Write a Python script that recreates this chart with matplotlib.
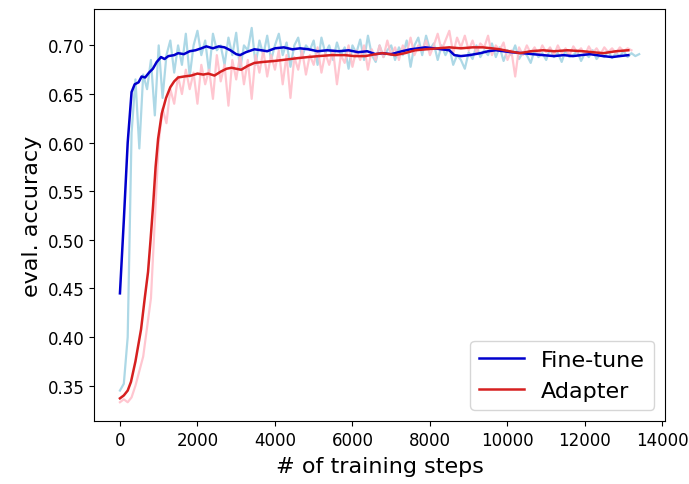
import numpy as np
import matplotlib
matplotlib.use('Agg')
import matplotlib.pyplot as plt

# raw evaluation accuracy, one value every 100 training steps
finetune_raw = [
    0.345, 0.352, 0.400, 0.610, 0.665, 0.594, 0.670, 0.655, 0.685, 0.628,
    0.700, 0.646, 0.690, 0.705, 0.672, 0.700, 0.680, 0.712, 0.668, 0.700,
    0.715, 0.690, 0.705, 0.672, 0.712, 0.695, 0.700, 0.680, 0.708, 0.690,
    0.713, 0.675, 0.700, 0.695, 0.718, 0.680, 0.705, 0.690, 0.710, 0.685,
    0.700, 0.712, 0.690, 0.703, 0.678, 0.700, 0.708, 0.688, 0.700, 0.695,
    0.705, 0.680, 0.708, 0.692, 0.700, 0.685, 0.703, 0.690, 0.698, 0.676,
    0.700, 0.692, 0.706, 0.685, 0.710, 0.690, 0.683, 0.700, 0.688, 0.695,
    0.700, 0.685, 0.698, 0.690, 0.705, 0.678, 0.700, 0.708, 0.690, 0.710,
    0.696, 0.702, 0.685, 0.700, 0.690, 0.698, 0.680, 0.690, 0.685, 0.676,
    0.693, 0.686, 0.700, 0.688, 0.695, 0.690, 0.702, 0.688, 0.698, 0.684,
    0.695, 0.690, 0.700, 0.686, 0.693, 0.690, 0.682, 0.695, 0.688, 0.692,
    0.685, 0.697, 0.688, 0.692, 0.683, 0.695, 0.688, 0.690, 0.694, 0.684,
    0.692, 0.688, 0.695, 0.686, 0.691, 0.688, 0.694, 0.687, 0.692, 0.689,
    0.694, 0.688, 0.692, 0.689, 0.691,
]
adapter_raw = [
    0.333, 0.336, 0.333, 0.338, 0.350, 0.365, 0.380, 0.410, 0.440, 0.520,
    0.600, 0.635, 0.620, 0.655, 0.640, 0.668, 0.650, 0.675, 0.655, 0.672,
    0.640, 0.680, 0.660, 0.675, 0.645, 0.690, 0.663, 0.680, 0.638, 0.685,
    0.665, 0.690, 0.660, 0.685, 0.645, 0.690, 0.672, 0.695, 0.668, 0.690,
    0.675, 0.695, 0.660, 0.690, 0.646, 0.688, 0.675, 0.695, 0.670, 0.690,
    0.680, 0.698, 0.672, 0.692, 0.680, 0.695, 0.660, 0.690, 0.682, 0.700,
    0.678, 0.695, 0.685, 0.700, 0.675, 0.696, 0.685, 0.700, 0.688, 0.705,
    0.690, 0.698, 0.685, 0.700, 0.692, 0.708, 0.690, 0.700, 0.695, 0.705,
    0.690, 0.700, 0.712, 0.695, 0.705, 0.715, 0.692, 0.708, 0.698, 0.710,
    0.695, 0.705, 0.692, 0.702, 0.698, 0.710, 0.690, 0.700, 0.695, 0.703,
    0.685, 0.695, 0.668, 0.698, 0.690, 0.700, 0.692, 0.698, 0.690, 0.700,
    0.693, 0.698, 0.690, 0.700, 0.692, 0.697, 0.690, 0.699, 0.693, 0.697,
    0.690, 0.699, 0.692, 0.697, 0.691, 0.698, 0.693, 0.697, 0.692, 0.698,
    0.694, 0.697, 0.695,
]
raw_interval = 100

# smoothed curves
finetune_steps = [0, 100, 200, 300, 380, 480, 560, 650, 750, 850, 950, 1060,
                  1150, 1250, 1400, 1500, 1650, 1800, 1950, 2100, 2230, 2400,
                  2550, 2700, 2850, 3000, 3100, 3250, 3470, 3650, 3800, 4000,
                  4230, 4450, 4650, 4870, 5100, 5350, 5650, 5900, 6150, 6380,
                  6590, 6770, 7000, 7280, 7500, 7700, 7880, 8100, 8300, 8500,
                  8630, 8800, 9020, 9300, 9500, 9700, 9900, 10100, 10400,
                  10650, 10920, 11200, 11450, 11690, 11900, 12130, 12300,
                  12470, 12700, 12900, 13120]
finetune_smooth = [0.445, 0.520, 0.600, 0.652, 0.660, 0.662, 0.668, 0.667,
                   0.672, 0.676, 0.683, 0.688, 0.686, 0.689, 0.690, 0.692,
                   0.691, 0.694, 0.695, 0.697, 0.699, 0.697, 0.699, 0.698,
                   0.695, 0.691, 0.690, 0.693, 0.696, 0.695, 0.694, 0.697,
                   0.698, 0.696, 0.697, 0.696, 0.694, 0.695, 0.694, 0.695,
                   0.693, 0.694, 0.691, 0.692, 0.691, 0.694, 0.696, 0.697,
                   0.698, 0.697, 0.696, 0.695, 0.690, 0.689, 0.690, 0.692,
                   0.694, 0.695, 0.694, 0.693, 0.692, 0.691, 0.690, 0.689,
                   0.690, 0.689, 0.690, 0.691, 0.690, 0.689, 0.688, 0.689,
                   0.690]
adapter_steps = [0, 100, 200, 285, 400, 545, 640, 725, 790, 855, 920, 985,
                 1080, 1190, 1300, 1400, 1500, 1650, 1840, 2000, 2150, 2280,
                 2440, 2600, 2750, 2880, 3000, 3130, 3300, 3470, 3700, 3990,
                 4200, 4400, 4610, 4850, 5130, 5450, 5810, 6050, 6330, 6600,
                 6770, 6950, 7100, 7350, 7620, 7900, 8200, 8500, 8800, 9100,
                 9360, 9600, 9800, 10050, 10320, 10600, 10920, 11200, 11550,
                 11950, 12200, 12470, 12800, 13120]
adapter_smooth = [0.337, 0.340, 0.345, 0.354, 0.375, 0.408, 0.440, 0.467,
                  0.500, 0.535, 0.575, 0.604, 0.630, 0.646, 0.657, 0.663,
                  0.667, 0.668, 0.669, 0.671, 0.670, 0.671, 0.669, 0.673,
                  0.676, 0.677, 0.676, 0.675, 0.679, 0.682, 0.683, 0.684,
                  0.685, 0.686, 0.687, 0.688, 0.689, 0.690, 0.690, 0.689,
                  0.689, 0.691, 0.692, 0.691, 0.690, 0.692, 0.695, 0.696,
                  0.697, 0.698, 0.697, 0.698, 0.698, 0.697, 0.696, 0.694,
                  0.692, 0.694, 0.695, 0.694, 0.695, 0.694, 0.693, 0.692,
                  0.694, 0.695]

fig = plt.figure(figsize=(6.89, 4.85), dpi=100)
ax = fig.add_axes([0.1364, 0.130, 0.829, 0.849])

ft_x = np.arange(len(finetune_raw)) * raw_interval
ad_x = np.arange(len(adapter_raw)) * raw_interval
ax.plot(ft_x, finetune_raw, c='lightblue', lw=1.6)
ax.plot(ad_x, adapter_raw, c='pink', lw=1.6, alpha=0.9)
ax.plot(finetune_steps, finetune_smooth, c='mediumblue', lw=1.8, label='Fine-tune')
ax.plot(adapter_steps, adapter_smooth, c='#d62020', lw=1.8, label='Adapter')

ax.set_xticks(np.arange(0, 14001, 2000))
ax.set_yticks(np.arange(0.35, 0.701, 0.05))
ax.tick_params(axis='both', which='major', labelsize=12)
ax.set_xlabel('# of training steps', fontsize=16, labelpad=5)
ax.set_ylabel('eval. accuracy', fontsize=16)
ax.legend(loc='lower right', fontsize=16)

fig.savefig('out.png', dpi=100)
